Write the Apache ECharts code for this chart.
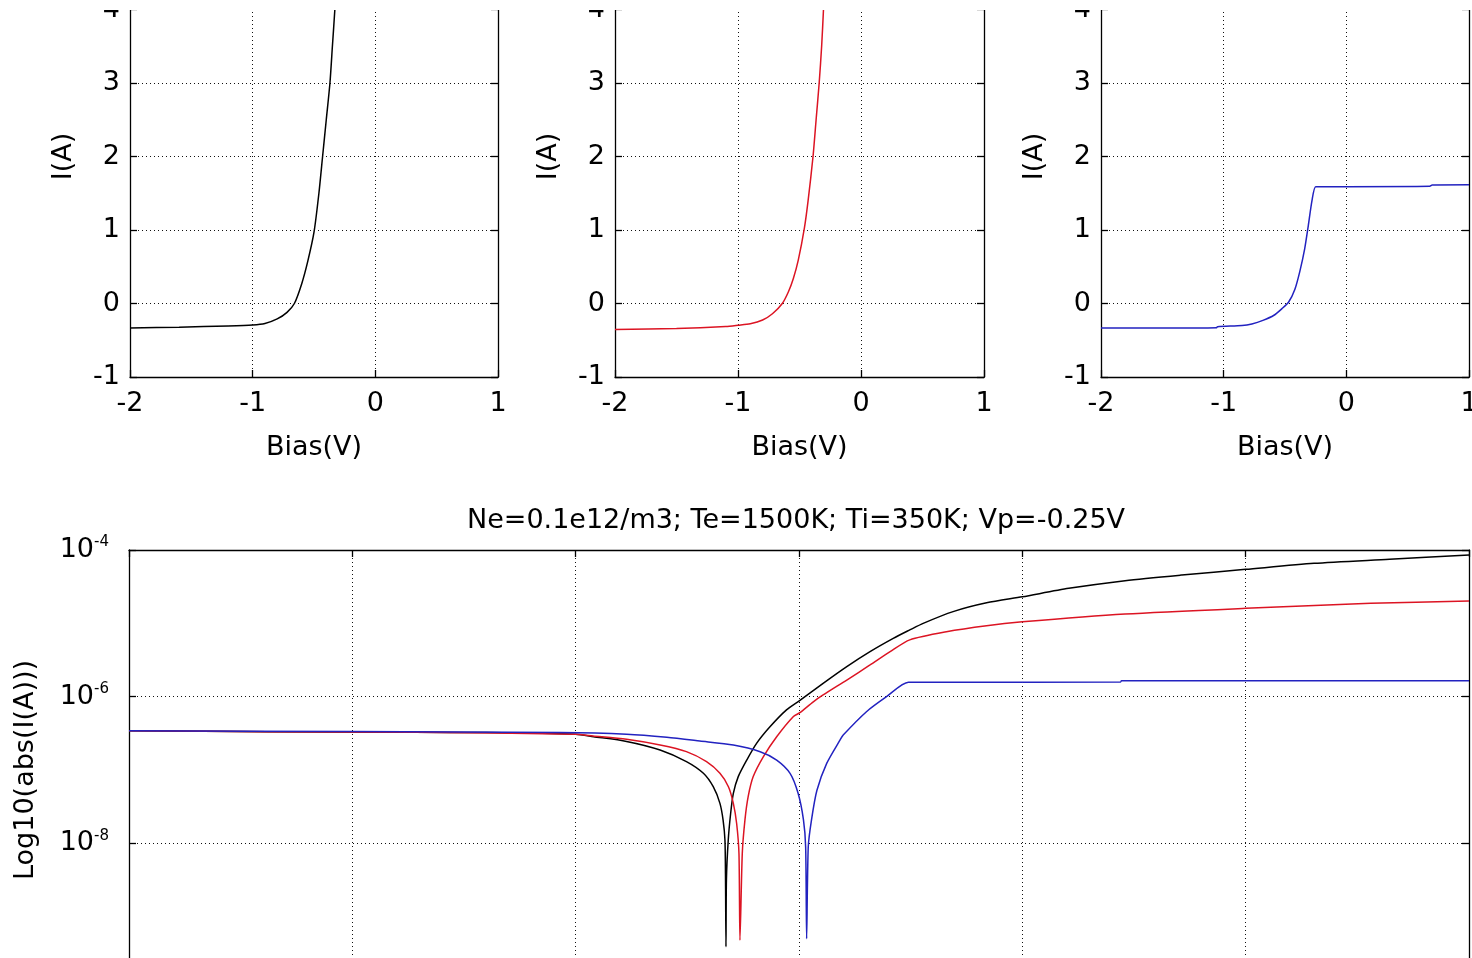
<!DOCTYPE html>
<html><head><meta charset="utf-8">
<script src="https://cdn.jsdelivr.net/npm/echarts@6/dist/echarts.min.js"></script>
<style>html,body{margin:0;padding:0;background:#fff}#c{width:1472px;height:958px}</style>
</head><body><div id="c"></div>
<script>
// ---------------- DATA ----------------
// Top panels: Bias (V) vs I (plot units)
const blackTopV = [-2.0,-1.6,-1.2,-1.0,-0.9,-0.8,-0.72,-0.66,-0.6,-0.55,-0.5,-0.46,-0.43,-0.40,-0.37,-0.35,-0.33,-0.31,-0.29];
const blackTopI = [-0.335,-0.322,-0.305,-0.292,-0.272,-0.21,-0.12,0.0,0.27,0.58,0.97,1.5,2.0,2.5,3.0,3.5,4.0,4.6,5.3];

const redTopV = [-2.0,-1.5,-1.1,-1.0,-0.9,-0.8,-0.72,-0.64,-0.59,-0.55,-0.51,-0.46,-0.43,-0.39,-0.365,-0.34,-0.32,-0.305,-0.29,-0.275];
const redTopI = [-0.355,-0.34,-0.312,-0.295,-0.275,-0.225,-0.14,0.0,0.16,0.34,0.59,1.03,1.4,2.0,2.5,3.0,3.5,4.0,4.6,5.3];

const blueTopV = [-2.0,-1.5,-1.06,-1.05,-0.85,-0.77,-0.68,-0.59,-0.525,-0.47,-0.42,-0.38,-0.34,-0.31,-0.28,-0.25,-0.2,0.0,0.68,0.7,1.0];
const blueTopI = [-0.335,-0.335,-0.33,-0.315,-0.30,-0.278,-0.23,-0.16,-0.07,0.02,0.19,0.43,0.74,1.06,1.40,1.59,1.59,1.59,1.595,1.612,1.615];

// Bottom panel: Bias (V) vs log10(|I|)
const blackLogV = [-2.0,-1.69,-1.36,-1.2,-1.0,-0.96,-0.886,-0.811,-0.752,-0.714,-0.692,-0.677,-0.670,-0.6658,-0.6645,-0.6635,-0.6625,-0.6584,-0.653,-0.647,-0.636,-0.617,-0.595,-0.565,-0.528,-0.498,-0.446,-0.393,-0.341,-0.289,-0.252,-0.222,-0.155,-0.08,0.0,0.104,0.23,0.357,0.5,0.653,0.822,1.0];
const blackLogI = [-6.465,-6.478,-6.486,-6.49,-6.513,-6.546,-6.61,-6.727,-6.885,-7.045,-7.228,-7.455,-7.68,-7.955,-8.5,-9.41,-8.5,-7.955,-7.59,-7.318,-7.09,-6.864,-6.636,-6.41,-6.18,-6.05,-5.818,-5.59,-5.386,-5.205,-5.09,-5.0,-4.84,-4.72,-4.638,-4.523,-4.418,-4.341,-4.264,-4.182,-4.127,-4.068];

const redLogV = [-2.0,-1.69,-1.36,-1.0,-0.961,-0.886,-0.811,-0.752,-0.707,-0.677,-0.658,-0.647,-0.6396,-0.6344,-0.6322,-0.627,-0.621,-0.6137,-0.6025,-0.58,-0.55,-0.513,-0.498,-0.468,-0.446,-0.393,-0.341,-0.296,-0.252,-0.17,-0.08,0.0,0.23,0.5,0.78,1.0];
const redLogI = [-6.465,-6.478,-6.486,-6.513,-6.536,-6.582,-6.66,-6.75,-6.887,-7.045,-7.228,-7.455,-7.73,-8.14,-9.32,-8.14,-7.68,-7.36,-7.09,-6.82,-6.546,-6.273,-6.218,-6.07,-5.977,-5.773,-5.568,-5.386,-5.225,-5.114,-5.032,-4.98,-4.873,-4.795,-4.727,-4.695];

const blueLogV = [-2.0,-1.5,-1.035,-0.886,-0.796,-0.722,-0.647,-0.587,-0.55,-0.52,-0.502,-0.49,-0.4851,-0.4829,-0.4793,-0.472,-0.46,-0.438,-0.408,-0.401,-0.349,-0.304,-0.255,-0.2,0.22,0.222,1.0];
const blueLogI = [-6.465,-6.475,-6.49,-6.513,-6.554,-6.605,-6.66,-6.75,-6.864,-7.045,-7.318,-7.68,-8.05,-9.3,-8.05,-7.68,-7.28,-6.91,-6.59,-6.523,-6.205,-6.0,-5.804,-5.803,-5.80,-5.782,-5.782];

const topXLabel = 'Bias(V)';
const topYLabel = 'I(A)';
const bottomYLabel = 'Log10(abs(I(A)))';
const bottomTitle = 'Ne=0.1e12/m3; Te=1500K; Ti=350K; Vp=-0.25V';

// ---------------- STYLE ----------------
const FONT = 'DejaVu Sans';
const C_BLACK = '#000000', C_RED = '#dc1423', C_BLUE = '#2222c0';
const LW = 1.5;
const pair = (xs, ys) => xs.map((x, i) => [x, ys[i]]);

const axisLine = {show: true, onZero: false, lineStyle: {color: '#000', width: 1.3}};
const axisTick = {show: true, inside: true, length: 7, lineStyle: {color: '#000', width: 1.3}};
const splitLine = {show: true, lineStyle: {color: '#111', width: 1, type: [1, 3]}};
const labelStyle = {color: '#000', fontFamily: FONT, fontSize: 27};

const panels = [
  {left: 130, width: 368, color: C_BLACK, data: pair(blackTopV, blackTopI)},
  {left: 615, width: 369, color: C_RED, data: pair(redTopV, redTopI)},
  {left: 1101, width: 368, color: C_BLUE, data: pair(blueTopV, blueTopI)}
];

const grid = [], xAxis = [], yAxis = [], series = [];
panels.forEach((p, k) => {
  grid.push({left: p.left, width: p.width, top: -64, height: 441, containLabel: false, outerBoundsMode: 'none'});
  xAxis.push({type: 'value', gridIndex: k, min: -2, max: 1, interval: 1, position: 'bottom',
    axisLine, axisTick, splitLine,
    axisLabel: Object.assign({margin: 13, showMinLabel: true, showMaxLabel: true}, labelStyle),
    name: topXLabel, nameLocation: 'middle', nameGap: 57, nameTextStyle: labelStyle});
});
panels.forEach((p, k) => {
  yAxis.push({type: 'value', gridIndex: k, min: -1, max: 5, interval: 1, position: 'left',
    axisLine, axisTick, splitLine,
    axisLabel: Object.assign({margin: 10}, labelStyle),
    name: topYLabel, nameLocation: 'middle', nameGap: 53, nameRotate: 90, nameTextStyle: labelStyle});
});
panels.forEach((p, k) => {
  yAxis.push({type: 'value', gridIndex: k, min: -1, max: 5, interval: 1, position: 'right',
    axisLine, axisTick, splitLine: {show: false}, axisLabel: {show: false}});
});
panels.forEach((p, k) => {
  series.push({type: 'line', xAxisIndex: k, yAxisIndex: k, data: p.data, showSymbol: false,
    symbol: 'none', smooth: 0.25,
    lineStyle: {color: p.color, width: LW}, clip: true, z: 3});
});

// bottom panel
grid.push({left: 129, width: 1340, top: 550, height: 440, containLabel: false, outerBoundsMode: 'none'});
xAxis.push({type: 'value', gridIndex: 3, min: -2, max: 1, interval: 0.5, position: 'bottom',
  axisLine, axisTick, splitLine, axisLabel: {show: false}});
xAxis.push({type: 'value', gridIndex: 3, min: -2, max: 1, interval: 0.5, position: 'top',
  axisLine, axisTick, splitLine: {show: false}, axisLabel: {show: false}});
yAxis.push({type: 'value', gridIndex: 3, min: -10, max: -4, interval: 2, position: 'left',
  axisLine, axisTick, splitLine,
  axisLabel: {margin: 20, showMaxLabel: true, formatter: v => '{b|10}{s|' + v + '}',
    rich: {b: {fontFamily: FONT, fontSize: 27, color: '#000', lineHeight: 30},
           s: {fontFamily: FONT, fontSize: 15, color: '#000', lineHeight: 9, verticalAlign: 'top'}}},
  name: bottomYLabel, nameLocation: 'middle', nameGap: 87, nameRotate: 90, nameTextStyle: labelStyle});
yAxis.push({type: 'value', gridIndex: 3, min: -10, max: -4, interval: 2, position: 'right',
  axisLine, axisTick, splitLine: {show: false}, axisLabel: {show: false}});

[[blackLogV, blackLogI, C_BLACK], [redLogV, redLogI, C_RED], [blueLogV, blueLogI, C_BLUE]].forEach(s => {
  series.push({type: 'line', xAxisIndex: 3, yAxisIndex: 6, data: pair(s[0], s[1]), showSymbol: false,
    symbol: 'none', smooth: 0.25,
    lineStyle: {color: s[2], width: LW}, clip: true, z: 3});
});

const chart = echarts.init(document.getElementById('c'), null, {renderer: 'canvas'});
chart.setOption({
  backgroundColor: '#fff',
  animation: false,
  title: {text: bottomTitle, left: 791, top: 502, textAlign: 'center',
    textStyle: {fontFamily: FONT, fontSize: 27, fontWeight: 'normal', color: '#000'}},
  grid, xAxis, yAxis, series,
  graphic: [{type: 'rect', shape: {x: 0, y: 0, width: 1472, height: 10}, style: {fill: '#fff'}, z: 100}]
});
</script></body></html>
